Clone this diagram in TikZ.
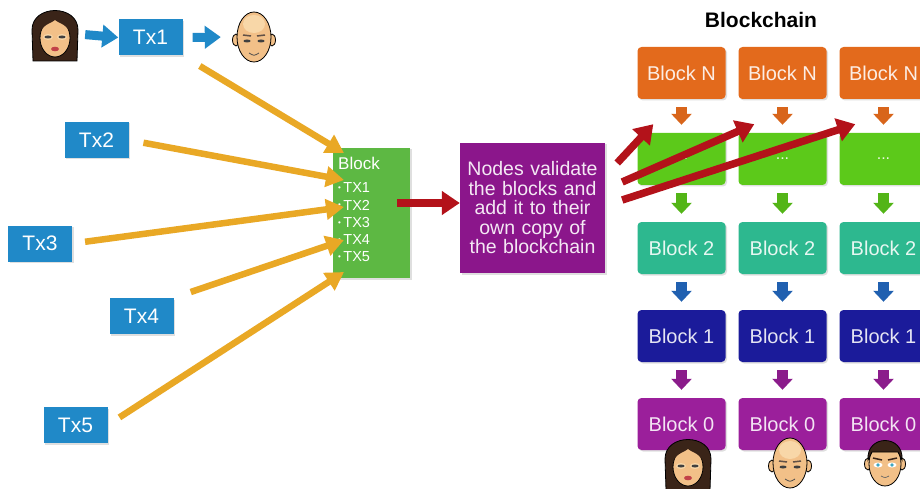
\documentclass[tikz,border=0pt]{standalone}
\usepackage{fontspec}
\setmainfont{Liberation Sans}
\usetikzlibrary{arrows.meta,shadows}

\definecolor{txblue}{HTML}{2089C8}
\definecolor{gold}{HTML}{E9A825}
\definecolor{blockgreen}{HTML}{5DB843}
\definecolor{validpurple}{HTML}{8B168B}
\definecolor{pushred}{HTML}{B3121A}
\definecolor{orangeN}{HTML}{E36A1C}
\definecolor{dotgreen}{HTML}{5CC91A}
\definecolor{teal2}{HTML}{2DB88F}
\definecolor{navy1}{HTML}{1B1B9A}
\definecolor{purple0}{HTML}{9B1F9B}
\definecolor{arrblue}{HTML}{2060B0}
\definecolor{skin}{HTML}{F2C088}
\definecolor{skinlight}{HTML}{F8D7A8}
\definecolor{hairbrown}{HTML}{3A2418}
\definecolor{eyeblue}{HTML}{3FA6C0}

\tikzset{
  shade/.style={drop shadow={opacity=0.25,shadow xshift=1.5pt,shadow yshift=-1.5pt}},
  tx/.style={fill=txblue, text=white, minimum width=64pt, minimum height=36pt,
    inner sep=0pt, font=\fontsize{21}{24}\selectfont, shade},
  chainblock/.style={fill=#1, text=white!88!#1, rounded corners=4pt,
    minimum width=88pt, minimum height=52pt, inner sep=0pt,
    font=\fontsize{20}{24}\selectfont, shade},
  downlink/.style={draw=#1, line width=11pt, -{Triangle[width=20pt,length=11pt]},
    shorten <=8pt, shorten >=8pt},
  feed/.style={draw=gold, line width=6.5pt, -{Triangle[width=20pt,length=18pt]}},
  push/.style={draw=pushred, line width=7.5pt, -{Triangle[width=23pt,length=18pt]}},
  hand/.style={draw=txblue, line width=9pt, -{Triangle[width=22pt,length=16pt]}},
  face/.style={minimum width=46pt, minimum height=54pt, inner sep=0pt},
  item/.style={anchor=west, text=white, inner sep=0pt, font=\fontsize{14.5}{16}\selectfont},
  woman/.pic={
    \fill[hairbrown,draw=black,line width=0.8pt] (-22pt,-27pt) -- (-23pt,4pt)
      .. controls (-23pt,30pt) and (23pt,30pt) .. (23pt,4pt) -- (22pt,-27pt) -- cycle;
    \fill[skin,draw=black,line width=0.8pt] (0pt,-4pt) ellipse (15pt and 19pt);
    \fill[hairbrown] (-16pt,1pt) .. controls (-15pt,22pt) and (15pt,22pt) .. (16pt,1pt)
      .. controls (10pt,11pt) and (3pt,11pt) .. (0pt,14pt)
      .. controls (-3pt,11pt) and (-10pt,11pt) .. cycle;
    \fill[skinlight] (-7pt,-3pt) ellipse (5pt and 3pt);
    \fill[skinlight] (7pt,-3pt) ellipse (5pt and 3pt);
    \fill[black!75] (-7pt,-3pt) ellipse (3.5pt and 1.5pt);
    \fill[black!75] (7pt,-3pt) ellipse (3.5pt and 1.5pt);
    \fill[pushred!80] (0pt,-15pt) ellipse (4pt and 2.3pt);
  },
  bald/.pic={
    \fill[skin,draw=black,line width=0.8pt] (-18pt,-3pt) ellipse (3.5pt and 6pt);
    \fill[skin,draw=black,line width=0.8pt] (18pt,-3pt) ellipse (3.5pt and 6pt);
    \fill[skin,draw=black,line width=0.8pt] (0pt,0pt) ellipse (17pt and 25pt);
    \fill[skinlight] (0pt,13pt) ellipse (11pt and 9pt);
    \draw[hairbrown!80,line width=1.5pt] (-11pt,2pt) -- (-3pt,1pt) (3pt,1pt) -- (11pt,2pt);
    \fill[black!75] (-7pt,-4pt) ellipse (3.5pt and 1.5pt);
    \fill[black!75] (7pt,-4pt) ellipse (3.5pt and 1.5pt);
    \draw[black!70,line width=0.8pt] (-5pt,-16pt) .. controls (0pt,-19pt) .. (5pt,-16pt);
  },
  man/.pic={
    \fill[skin,draw=black,line width=0.8pt] (-17pt,-2pt) ellipse (3.5pt and 6pt);
    \fill[skin,draw=black,line width=0.8pt] (17pt,-2pt) ellipse (3.5pt and 6pt);
    \fill[skin,draw=black,line width=0.8pt] (0pt,-2pt) ellipse (16pt and 22pt);
    \fill[hairbrown,draw=black,line width=0.8pt] (-17pt,2pt)
      .. controls (-19pt,28pt) and (19pt,28pt) .. (17pt,2pt)
      -- (13pt,10pt) -- (-13pt,10pt) -- cycle;
    \draw[hairbrown,line width=1.5pt] (-12pt,4pt) -- (-3pt,2pt) (3pt,2pt) -- (12pt,4pt);
    \fill[white] (-7pt,-3pt) ellipse (4.5pt and 2.5pt);
    \fill[white] (7pt,-3pt) ellipse (4.5pt and 2.5pt);
    \fill[eyeblue] (-7pt,-3pt) circle (1.8pt);
    \fill[eyeblue] (7pt,-3pt) circle (1.8pt);
    \draw[black!60,line width=0.7pt] (-4pt,-14pt) .. controls (0pt,-16pt) .. (4pt,-14pt);
  }
}

\begin{document}
\begin{tikzpicture}[x=1pt,y=-1pt]
    \useasboundingbox[fill=white] (0,0) rectangle (920,489);

    % Transactions
    \node[face] (sender) at (55,34) {};
    \pic at (sender) {woman};
    \node[tx] (tx1) at (150.5,37.5) {Tx1};
    \node[face] (receiver) at (254,37) {};
    \pic at (receiver) {bald};
    \node[tx] (tx2) at (96.5,140) {Tx2};
    \node[tx] (tx3) at (40,243.5) {Tx3};
    \node[tx] (tx4) at (141.5,316) {Tx4};
    \node[tx] (tx5) at (75.5,425) {Tx5};

    \draw[hand, shorten <=7pt] (sender.east) -- (tx1.west);
    \draw[hand, shorten <=10pt, shorten >=10pt] (tx1.east) -- (receiver.west);

    % Block
    \node[fill=blockgreen, minimum width=77pt, minimum height=130pt, inner sep=0pt,
      shade] (blk) at (371.5,213) {};
    \node[item, font=\fontsize{17}{18}\selectfont] (blk-title) at (338,163) {Block};
    \foreach \i in {1,...,5}
      \node[item] (item\i) at (338,{170.5+17.3*\i})
        {\raisebox{0.3ex}{\fontsize{8}{8}\selectfont\textbullet}\,TX\i};

    \coordinate (in1) at (344,153);
    \coordinate (in2) at (344,180);
    \coordinate (in3) at (344,207);
    \coordinate (in4) at (344,240);
    \coordinate (in5) at (344,272);
    \draw[feed, shorten <=20pt] (tx1.south east) -- (in1);
    \draw[feed, shorten <=15pt] (tx2.east) -- (in2);
    \draw[feed, shorten <=13pt] (tx3.east) -- (in3);
    \draw[feed, shorten <=18pt] (tx4.north east) -- (in4);
    \draw[feed, shorten <=14pt] (tx5.east) -- (in5);

    % Validation
    \node[fill=validpurple, text=white!90!validpurple, minimum width=145pt,
      minimum height=130pt, text width=142pt, align=center, inner sep=0pt,
      font=\fontsize{19.5}{19.5}\selectfont, shade] (validate) at (532.5,208)
      {Nodes validate the blocks and add it to their own copy of the blockchain};
    \draw[push] ([xshift=-13pt,yshift=10pt]blk.east) -- ([yshift=5pt]validate.west);

    % Copies of the chain
    \node[font=\bfseries\fontsize{21}{24}\selectfont] (title) at (761,20) {Blockchain};
    \foreach \c/\x in {1/681.5, 2/782.5, 3/883.5} {
      \node[chainblock=orangeN] (blkN-\c) at (\x,73) {Block N};
      \node[chainblock=dotgreen, font=\fontsize{16}{18}\selectfont] (dots-\c) at (\x,159) {...};
      \node[chainblock=teal2] (blk2-\c) at (\x,248) {Block 2};
      \node[chainblock=navy1] (blk1-\c) at (\x,336) {Block 1};
      \node[chainblock=purple0] (blk0-\c) at (\x,424) {Block 0};
      \draw[downlink=orangeN!95!black] (blkN-\c) -- (dots-\c);
      \draw[downlink=dotgreen!90!black] (dots-\c) -- (blk2-\c);
      \draw[downlink=arrblue] (blk2-\c) -- (blk1-\c);
      \draw[downlink=purple0!90!black] (blk1-\c) -- (blk0-\c);
    }

    \foreach \c/\dx/\dy in {1/12/45, 2/17/26, 3/17/8}
      \draw[push] ([xshift=\dx pt,yshift=\dy pt]validate.east)
        -- ([xshift=16pt,yshift=-25pt]blkN-\c.south west);

    % Node owners
    \node[face] (owner1) at (688,463) {};
    \pic at (owner1) {woman};
    \node[face] (owner2) at (790,463) {};
    \pic at (owner2) {bald};
    \node[face] (owner3) at (885,462) {};
    \pic at (owner3) {man};
\end{tikzpicture}
\end{document}
